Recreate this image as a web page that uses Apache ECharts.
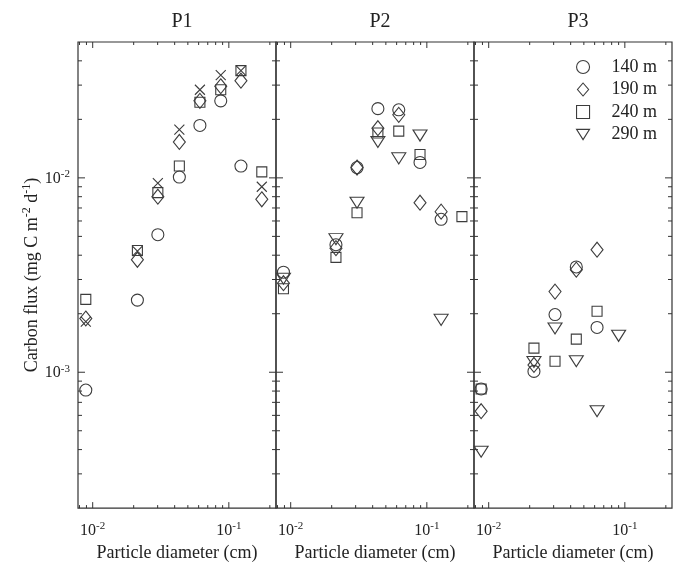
<!DOCTYPE html>
<html>
<head>
<meta charset="utf-8">
<script src="https://cdn.jsdelivr.net/npm/echarts@6/dist/echarts.min.js"></script>
<style>
  html, body { margin: 0; background: #fff; }
  #chart { width: 679px; height: 567px; }
</style>
</head>
<body>
<div id="chart"></div>
<script>
// panels and depths
const panels = ['P1', 'P2', 'P3'];
const depths = ['140 m', '190 m', '240 m', '290 m'];

// P1: particle diameter (cm) and carbon flux per depth
const p1Size = [0.0089, 0.0213, 0.0301, 0.0433, 0.0613, 0.0872, 0.1227, 0.1746];
const p1Flux140 = [0.00081, 0.00235, 0.0051, 0.0101, 0.0186, 0.0249, 0.0115, null];
const p1Flux190 = [0.00189, 0.00379, 0.0080, 0.0153, 0.0249, 0.0296, 0.0316, 0.00776];
const p1Flux240 = [0.00237, 0.00423, 0.0084, 0.0115, 0.0245, 0.0284, 0.0356, 0.01074];
const p1Flux290 = [0.00182, 0.0042, 0.0094, 0.0177, 0.0284, 0.0338, 0.0356, 0.0090];

// P2
const p2Size = [0.00885, 0.0215, 0.0307, 0.0437, 0.0622, 0.0891, 0.1273, 0.181];
const p2Flux140 = [0.00327, 0.00453, 0.0113, 0.0227, 0.0224, 0.0120, 0.00612, null];
const p2Flux190 = [0.00287, 0.00435, 0.0113, 0.0180, 0.0211, 0.00745, 0.0067, null];
const p2Flux240 = [0.00269, 0.0039, 0.00662, 0.0170, 0.0174, 0.0132, null, 0.00632];
const p2Flux290 = [0.00303, 0.00484, 0.00745, 0.0153, 0.0126, 0.0165, 0.00186, null];

// P3
const p3Size = [0.0088, 0.0215, 0.0307, 0.044, 0.0625, 0.090];
const p3Flux140 = [0.00082, 0.00101, 0.00198, 0.00348, 0.0017, null];
const p3Flux190 = [0.00063, 0.00109, 0.0026, 0.00337, 0.00427, null];
const p3Flux240 = [0.00082, 0.00133, 0.00114, 0.00148, 0.00206, null];
const p3Flux290 = [0.00039, 0.00113, 0.00168, 0.00114, 0.00063, 0.00154];

// axis ranges and tick values
const xMin = 0.0078, xMax = 0.222;
const yMin = 0.0002, yMax = 0.05;
const xTicks = [0.008, 0.009, 0.01, 0.02, 0.03, 0.04, 0.05, 0.06, 0.07, 0.08, 0.09, 0.1, 0.2];
const yTicks = [0.0003, 0.0004, 0.0005, 0.0006, 0.0007, 0.0008, 0.0009, 0.001,
  0.002, 0.003, 0.004, 0.005, 0.006, 0.007, 0.008, 0.009, 0.01, 0.02, 0.03, 0.04];

const sizes = [p1Size, p2Size, p3Size];
const fluxes = [
  [p1Flux140, p1Flux190, p1Flux240, p1Flux290],
  [p2Flux140, p2Flux190, p2Flux240, p2Flux290],
  [p3Flux140, p3Flux190, p3Flux240, p3Flux290],
];

const FONT = 'Liberation Serif';
const INK = '#3c3c3c';
const triDown = 'path://M0,0 L14,0 L7,11 Z';
const cross = 'path://M0,0 L10,10 M10,0 L0,10';
const symbols = ['circle', 'diamond', 'rect', triDown];
const symbolSizes = [12, [12, 15], 10, [14, 11]];

const gridLeft = [78, 276, 474];
const gridW = 198;

const isMajor = (v) => Math.abs(Math.log10(v) - Math.round(Math.log10(v))) < 1e-6;
const powLabel = (v) => isMajor(v) ? '{b|10}{sup|' + Math.round(Math.log10(v)) + '}' : '';
const powRich = {
  b: { fontFamily: FONT, fontSize: 16, color: '#222', lineHeight: 18, verticalAlign: 'bottom' },
  sup: { fontFamily: FONT, fontSize: 11, color: '#222', lineHeight: 18, verticalAlign: 'top', padding: [0, 0, 6, 0] },
};

const myChart = echarts.init(document.getElementById('chart'));

const grids = [], xAxes = [], yAxes = [], series = [], titles = [];

panels.forEach((p, gi) => {
  grids.push({
    left: gridLeft[gi], width: gridW, top: 42, height: 467,
    show: true, borderColor: '#333', borderWidth: 1.2, backgroundColor: 'transparent',
  });
  titles.push({
    text: p, left: gridLeft[gi] + gridW / 2, top: 7, textAlign: 'center',
    textStyle: { fontFamily: FONT, fontSize: 20, fontWeight: 'normal', color: '#222' },
  });
  xAxes.push({
    gridIndex: gi, type: 'log', logBase: 10, min: xMin, max: xMax,
    axisLine: { show: false }, axisTick: { show: false }, splitLine: { show: false },
    axisLabel: {
      margin: 13, showMinLabel: false, showMaxLabel: false,
      formatter: powLabel, rich: powRich,
    },
    name: 'Particle diameter (cm)', nameLocation: 'middle', nameGap: 31,
    nameTextStyle: { fontFamily: FONT, fontSize: 18, color: '#222' },
  });
  yAxes.push({
    gridIndex: gi, type: 'log', logBase: 10, min: yMin, max: yMax,
    axisLine: { show: false }, axisTick: { show: false }, splitLine: { show: false },
    axisLabel: {
      show: gi === 0, margin: 8, showMinLabel: false, showMaxLabel: false,
      formatter: powLabel, rich: powRich,
    },
    name: gi === 0 ? '{b|Carbon flux (mg C m}{sup|-2}{b| d}{sup|-1}{b|)}' : '',
    nameLocation: 'middle', nameGap: 37, nameRotate: 90,
    nameTextStyle: {
      rich: {
        b: { fontFamily: FONT, fontSize: 18, color: '#222', lineHeight: 20, verticalAlign: 'bottom' },
        sup: { fontFamily: FONT, fontSize: 12, color: '#222', lineHeight: 20, verticalAlign: 'top', padding: [0, 0, 6, 0] },
      },
    },
  });

  // x ticks (bottom and top, inside)
  series.push({
    type: 'custom', xAxisIndex: gi, yAxisIndex: gi, silent: true, z: 1,
    data: xTicks.map((v) => [v, yMin, isMajor(v) ? 1 : 0]),
    renderItem: (params, api) => {
      const b = api.coord([api.value(0), yMin]);
      const t = api.coord([api.value(0), yMax]);
      const len = api.value(2) ? 6 : 3;
      const st = { stroke: '#333', lineWidth: 1 };
      return {
        type: 'group', children: [
          { type: 'line', shape: { x1: b[0], y1: b[1], x2: b[0], y2: b[1] - len }, style: st },
          { type: 'line', shape: { x1: t[0], y1: t[1], x2: t[0], y2: t[1] + len }, style: st },
        ],
      };
    },
  });
  // y ticks (left and right, inside)
  series.push({
    type: 'custom', xAxisIndex: gi, yAxisIndex: gi, silent: true, z: 1,
    data: yTicks.map((v) => [xMin, v, isMajor(v) ? 1 : 0]),
    renderItem: (params, api) => {
      const l = api.coord([xMin, api.value(1)]);
      const r = api.coord([xMax, api.value(1)]);
      const len = api.value(2) ? 7 : 4;
      const st = { stroke: '#333', lineWidth: 1 };
      return {
        type: 'group', children: [
          { type: 'line', shape: { x1: l[0], y1: l[1], x2: l[0] + len, y2: l[1] }, style: st },
          { type: 'line', shape: { x1: r[0], y1: r[1], x2: r[0] - len, y2: r[1] }, style: st },
        ],
      };
    },
  });

  // scatter series, one per depth
  depths.forEach((d, di) => {
    const useCross = gi === 0 && di === 3;
    series.push({
      name: d, type: 'scatter', xAxisIndex: gi, yAxisIndex: gi, z: 3,
      symbol: useCross ? cross : symbols[di],
      symbolSize: useCross ? 10 : symbolSizes[di],
      itemStyle: { color: 'rgba(0,0,0,0)', borderColor: INK, borderWidth: 1.1, opacity: 1 },
      emphasis: { disabled: true },
      data: sizes[gi].map((x, i) => [x, fluxes[gi][di][i]]).filter((pt) => pt[1] != null),
    });
  });
});

const legendIcons = ['circle', 'path://M6,0 L12,7 L6,14 L0,7 Z', 'path://M0,0 L11,0 L11,11 L0,11 Z', 'path://M0,0 L14,0 L7,11 Z'];

myChart.setOption({
  animation: false,
  title: titles,
  legend: {
    orient: 'vertical', left: 571, top: 53, itemWidth: 13, itemHeight: 13, itemGap: 4.5,
    selectedMode: false,
    data: depths.map((d, i) => ({ name: d, icon: legendIcons[i] })),
    itemStyle: { color: 'rgba(0,0,0,0)', borderColor: INK, borderWidth: 1.1 },
    textStyle: { fontFamily: FONT, fontSize: 18, color: '#222', lineHeight: 18, padding: [0, 0, 0, 17] },
  },
  grid: grids,
  xAxis: xAxes,
  yAxis: yAxes,
  series: series,
});
</script>
</body>
</html>
